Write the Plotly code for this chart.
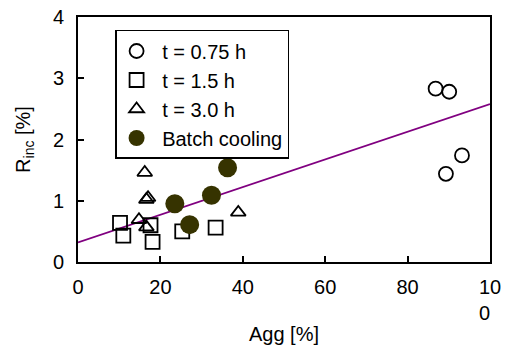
import plotly.graph_objects as go

# t = 0.75 h (open circles)
t075_x = [86.8, 90.1, 93.2, 89.3]
t075_y = [2.83, 2.78, 1.74, 1.44]

# t = 1.5 h (open squares)
t15_x = [10.2, 11.0, 17.6, 18.1, 25.3, 33.4]
t15_y = [0.64, 0.43, 0.60, 0.33, 0.50, 0.56]

# t = 3.0 h (open triangles)
t30_x = [16.2, 16.6, 17.0, 14.8, 16.6, 38.9]
t30_y = [1.46, 1.02, 1.05, 0.69, 0.57, 0.81]

# Batch cooling (filled circles)
batch_x = [23.5, 27.1, 32.4, 36.3]
batch_y = [0.95, 0.61, 1.09, 1.54]

# Linear fit line
fit_x = [0, 100]
fit_y = [0.32, 2.58]

x_tickvals = [0, 20, 40, 60, 80, 100]
x_ticktext = ["0", "20", "40", "60", "80", "10<br>0\u00a0\u00a0"]
y_tickvals = [0, 1, 2, 3, 4]

FONT = "Liberation Sans, Arial, sans-serif"
OLIVE = "#363300"
SP = "\u00a0"

fig = go.Figure()
fig.add_trace(go.Scatter(x=fit_x, y=fit_y, mode="lines",
                         line=dict(color="#800080", width=1.8),
                         showlegend=False, hoverinfo="skip"))
fig.add_trace(go.Scatter(x=t075_x, y=t075_y, mode="markers", name=SP + "t = 0.75 h",
                         marker=dict(symbol="circle-open", size=14, color="black",
                                     line=dict(width=1.8, color="black"))))
fig.add_trace(go.Scatter(x=t15_x, y=t15_y, mode="markers", name=SP + "t = 1.5 h",
                         marker=dict(symbol="square-open", size=14, color="black",
                                     line=dict(width=1.8, color="black"))))
fig.add_trace(go.Scatter(x=t30_x, y=t30_y, mode="markers", name=SP + "t = 3.0 h",
                         marker=dict(symbol="triangle-up-open", size=13, color="black",
                                     line=dict(width=1.8, color="black"))))
fig.add_trace(go.Scatter(x=batch_x, y=batch_y, mode="markers", name=SP + "Batch cooling",
                         marker=dict(symbol="circle", size=19, color=OLIVE,
                                     line=dict(width=0))))

fig.update_layout(
    width=510, height=345,
    margin=dict(l=78, r=20, t=17, b=83, autoexpand=False),
    paper_bgcolor="white", plot_bgcolor="white",
    font=dict(family=FONT, size=20, color="black"),
    showlegend=True,
    legend=dict(x=0.09, y=0.947, xanchor="left", yanchor="top",
                bordercolor="black", borderwidth=1.5, bgcolor="rgba(0,0,0,0)",
                font=dict(size=20), tracegroupgap=0, entrywidth=187,
                itemsizing="trace"),
    xaxis=dict(range=[0, 100], tickvals=x_tickvals, ticktext=x_ticktext,
               automargin=False, ticklabeloverflow="allow",
               showgrid=False, zeroline=False,
               showline=True, linecolor="black", linewidth=2, mirror=True,
               ticks="inside", ticklen=6, tickwidth=1.5, tickcolor="black",
               ticklabelstandoff=6,
               title=dict(text="Agg [%]", standoff=17, font=dict(size=20))),
    yaxis=dict(range=[0, 4], tickvals=y_tickvals,
               automargin=False, ticklabeloverflow="allow",
               showgrid=False, zeroline=False,
               showline=True, linecolor="black", linewidth=2, mirror=True,
               ticks="inside", ticklen=6, tickwidth=1.5, tickcolor="black",
               ticklabelstandoff=8,
               title=dict(text="R<sub>inc</sub> [%]", standoff=17, font=dict(size=20))),
)

# remove the default 8px page margin so the 510x345 figure fills the window
fig.write_html("out.html",
               config={"displayModeBar": False},
               post_script="document.body.style.margin='0';document.body.style.overflow='hidden';")
